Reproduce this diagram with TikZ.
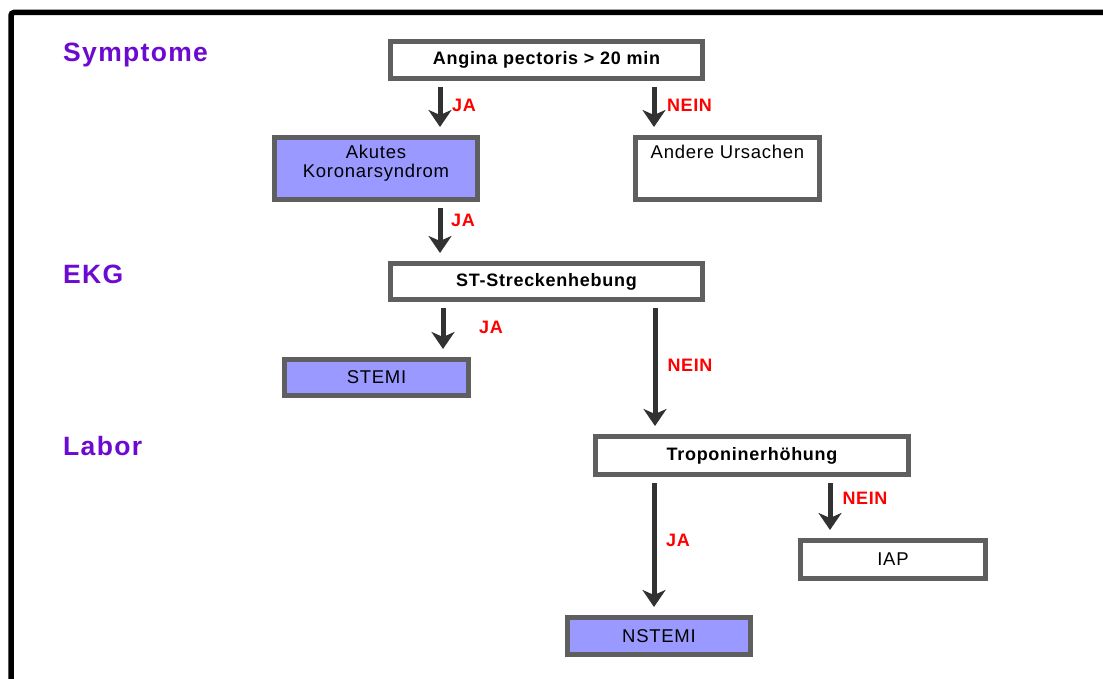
\documentclass[tikz,border=0pt]{standalone}
\usepackage{fontspec}
\setmainfont{Liberation Sans}
\newfontfamily\boxfont[LetterSpace=4]{Liberation Sans}
\newfontfamily\phasefont[LetterSpace=5]{Liberation Sans}
\newfontfamily\labfont[LetterSpace=3]{Liberation Sans}
\usetikzlibrary{arrows.meta}
\definecolor{boxblue}{RGB}{153,153,255}
\definecolor{boxline}{RGB}{95,95,95}
\definecolor{arrgray}{RGB}{50,50,50}
\definecolor{phase}{RGB}{108,10,210}
\definecolor{jared}{RGB}{255,0,0}
\tikzset{
  box/.style={draw=boxline, line width=5pt, fill=white, inner sep=0pt, align=center, font=\boxfont\fontsize{18.5}{21}\selectfont},
  bluebox/.style={box, fill=boxblue},
  boldbox/.style={box, font=\boxfont\fontsize{18}{21}\selectfont\bfseries},
  twoline/.style={font=\boxfont\fontsize{18.5}{19}\selectfont, text depth=14.5pt},
  arr/.style={draw=arrgray, line width=5pt, -{Stealth[length=17pt,width=23pt,inset=5pt]}, shorten <=6pt, shorten >=8pt},
  lab/.style={text=jared, font=\labfont\fontsize{18}{20}\selectfont\bfseries, inner sep=0pt},
  phaselab/.style={text=phase, font=\phasefont\fontsize{26.5}{28}\selectfont\bfseries, inner sep=0pt, anchor=base west},
}
\begin{document}
\begin{tikzpicture}[x=1pt,y=-1pt]
\useasboundingbox (0,0) rectangle (1103,679);
\fill[white] (0,0) rectangle (1103,679);
% frame
\draw[black, line width=5.5pt, rounded corners=3pt] (11,690) -- (11,12.5) -- (1110,12.5);
% phase labels
\node[phaselab] (sym) at (63,61.5) {Symptome};
\node[phaselab] (ekg) at (63,283) {EKG};
\node[phaselab] (lab) at (63,455) {Labor};
% boxes
\node[boldbox, minimum width=312pt, minimum height=37pt] (ang) at (546.5,60) {Angina pectoris > 20 min};
\node[bluebox, twoline, minimum width=203pt, minimum height=62pt] (aks) at (376,168.5) {Akutes\\Koronarsyndrom};
\node[box, twoline, minimum width=184pt, minimum height=62pt] (and) at (727.5,168.5) {Andere Ursachen\\\phantom{X}};
\node[boldbox, minimum width=312pt, minimum height=36pt] (st) at (546.5,281.5) {ST-Streckenhebung};
\node[bluebox, minimum width=184pt, minimum height=36pt] (stemi) at (376.5,377.5) {STEMI};
\node[boldbox, minimum width=313pt, minimum height=38pt] (tro) at (752,455.5) {Troponinerhöhung};
\node[box, minimum width=185pt, minimum height=38pt] (iap) at (893,559.5) {IAP};
\node[bluebox, minimum width=183pt, minimum height=37pt] (nst) at (659,636) {NSTEMI};
% arrows
\draw[arr] (ang.south -| 440,0) -- (aks.north -| 440,0);
\draw[arr] (ang.south -| 654,0) -- (and.north -| 654,0);
\draw[arr] (aks.south -| 440,0) -- (st.north -| 440,0);
\draw[arr] (st.south -| 443,0) -- (stemi.north -| 443,0);
\draw[arr] (st.south -| 655,0) -- (tro.north -| 655,0);
\draw[arr] (tro.south -| 654,0) -- (nst.north -| 654,0);
\draw[arr] (tro.south -| 830,0) -- (iap.north -| 830,0);
% labels
\node[lab] (l1) at (464,105) {JA};
\node[lab] (l2) at (689.5,105) {NEIN};
\node[lab] (l3) at (463,220) {JA};
\node[lab] (l4) at (491,327) {JA};
\node[lab] (l5) at (690,365) {NEIN};
\node[lab] (l6) at (865,498) {NEIN};
\node[lab] (l7) at (678,540) {JA};
\end{tikzpicture}
\end{document}
